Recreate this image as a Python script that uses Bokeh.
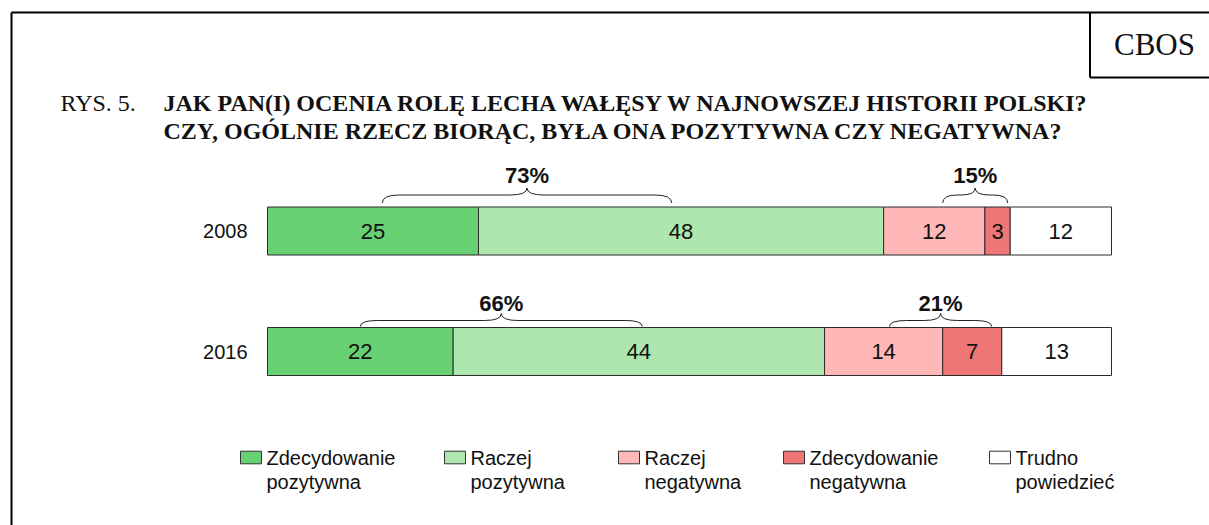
import numpy as np
import pandas as pd
from bokeh.plotting import figure
from bokeh.models import Range1d, ColumnDataSource
from bokeh.core.properties import value
from bokeh.embed import file_html
from bokeh.resources import INLINE

# ---------------- data ----------------
years = ["2008", "2016"]
categories = ["Zdecydowanie pozytywna", "Raczej pozytywna", "Raczej negatywna",
              "Zdecydowanie negatywna", "Trudno powiedzieć"]
colors = ["#67D072", "#AEE6AF", "#FFB7B7", "#EE7676", "#FFFFFF"]
values_2008 = [25, 48, 12, 3, 12]
values_2016 = [22, 44, 14, 7, 13]
# brackets (positive / negative sums) spans, in % units
bracket_from_2008 = [13.6, 80.0]
bracket_to_2008 = [47.9, 87.7]
bracket_from_2016 = [11.0, 73.7]
bracket_to_2016 = [44.4, 85.8]
bracket_groups = [[0, 1], [2, 3]]  # which categories each bracket sums

title_prefix = "RYS. 5."
title_lines = ["JAK PAN(I) OCENIA ROLĘ LECHA WAŁĘSY W NAJNOWSZEJ HISTORII POLSKI?",
               "CZY, OGÓLNIE RZECZ BIORĄC, BYŁA ONA POZYTYWNA CZY NEGATYWNA?"]
logo = "CBOS"

# ---------------- layout (pixel coords) ----------------
W, H = 1209, 525
def fx(sx): return sx
def fy(sy): return sy

x_zero_px = fx(267)
px_per_unit = 8.44
row_center = [fy(230.5), fy(351)]
bar_h = 48
bracket_end_lift = [4, 1]
bracket_flat_lift = [12, 7]
bracket_peak_lift = [19, 14]
label_lift = [32, 24]

SANS = value("Liberation Sans")
SERIF = value("Liberation Serif")

p = figure(width=W, height=H, output_backend="svg", toolbar_location=None,
           x_range=Range1d(-x_zero_px / px_per_unit, (W - x_zero_px) / px_per_unit),
           y_range=Range1d(H, 0), x_axis_type=None, y_axis_type=None,
           min_border=0)
p.extra_x_ranges = {"px": Range1d(0, W)}
p.outline_line_color = None
p.grid.visible = False
p.background_fill_color = "white"
p.border_fill_color = "white"

# ---------------- bars ----------------
rows = []
for yi, vals in enumerate([values_2008, values_2016]):
    cum = np.cumsum([0] + vals)
    for ci, v in enumerate(vals):
        rows.append(dict(y=row_center[yi], left=cum[ci], right=cum[ci + 1],
                         mid=(cum[ci] + cum[ci + 1]) / 2, val=str(v), color=colors[ci]))
df = pd.DataFrame(rows)
src = ColumnDataSource(df)
p.hbar(y="y", left="left", right="right", height=bar_h, fill_color="color",
       line_color="#2b2b2b", line_width=1, source=src)
p.text(x="mid", y="y", text="val", source=src, text_align="center",
       text_baseline="middle", text_font=SANS, text_font_size="22px", text_color="#111111")

# year labels
p.text(x=[fx(247)] * 2, y=row_center, text=years, x_range_name="px",
       text_align="right", text_baseline="middle", text_font=SANS,
       text_font_size="20px", text_color="#111111")

# ---------------- brackets ----------------
qx0, qy0, qx1, qy1, qcx, qcy = [], [], [], [], [], []
sx0, sy0, sx1, sy1 = [], [], [], []
lx, ly, lt = [], [], []
for yi, (bf, bt, vals) in enumerate([(bracket_from_2008, bracket_to_2008, values_2008),
                                     (bracket_from_2016, bracket_to_2016, values_2016)]):
    top = row_center[yi] - bar_h / 2
    ye = top - bracket_end_lift[yi]
    yf = top - bracket_flat_lift[yi]
    yp = top - bracket_peak_lift[yi]
    for k in range(2):
        xl, xr = bf[k], bt[k]
        xm = (xl + xr) / 2
        r = min(2.0, (xr - xl) / 4.5)
        # outer corners
        for xe, xs in [(xl, xl + r), (xr, xr - r)]:
            qx0.append(xe); qy0.append(ye); qx1.append(xs); qy1.append(yf)
            qcx.append(xe); qcy.append(yf)
        # inner corners to peak
        for xs in [xm - r, xm + r]:
            qx0.append(xs); qy0.append(yf); qx1.append(xm); qy1.append(yp)
            qcx.append(xm); qcy.append(yf)
        # flats
        sx0 += [xl + r, xm + r]; sx1 += [xm - r, xr - r]
        sy0 += [yf, yf]; sy1 += [yf, yf]
        total = sum(vals[i] for i in bracket_groups[k])
        lx.append(xm); ly.append(top - label_lift[yi]); lt.append(f"{total}%")

p.quadratic(x0=qx0, y0=qy0, x1=qx1, y1=qy1, cx=qcx, cy=qcy, line_color="#222222", line_width=1)
p.segment(x0=sx0, y0=sy0, x1=sx1, y1=sy1, line_color="#222222", line_width=1)
p.text(x=lx, y=ly, text=lt, text_align="center", text_baseline="middle",
       text_font=SANS, text_font_style="bold", text_font_size="22px", text_color="#111111")

# ---------------- frame & logo ----------------
p.segment(x0=[fx(11), fx(11), fx(1089.5), fx(1089.5)],
          y0=[fy(12), fy(12), fy(12), fy(77)],
          x1=[W + 5, fx(11), fx(1089.5), W + 5],
          y1=[fy(12), H + 5, fy(77), fy(77)],
          x_range_name="px", line_color="black", line_width=2)
p.text(x=[fx(1154)], y=[fy(44)], text=[logo], x_range_name="px", text_align="center",
       text_baseline="middle", text_font=SERIF, text_font_size="31px", text_color="#111111")

# ---------------- title ----------------
p.text(x=[fx(60)], y=[fy(102)], text=[title_prefix], x_range_name="px",
       text_align="left", text_baseline="alphabetic", text_font=SERIF,
       text_font_size="24px", text_color="#111111")
p.text(x=[fx(163)] * 2, y=[fy(102), fy(130)], text=title_lines, x_range_name="px",
       text_align="left", text_baseline="alphabetic", text_font=SERIF,
       text_font_style="bold", text_font_size="24px", text_color="#111111")

# ---------------- legend ----------------
leg_sq_x = [240, 444, 618, 783, 989]
leg_y1, leg_y2 = 457, 481
sq_w, sq_h = 21, 12.6
p.rect(x=[fx(x + sq_w / 2) for x in leg_sq_x], y=[fy(leg_y1)] * 5, width=sq_w, height=sq_h,
       x_range_name="px", fill_color=colors, line_color="#333333", line_width=1)
line1 = [c.split(" ", 1)[0] for c in categories]
line2 = [c.split(" ", 1)[1] for c in categories]
tx = [fx(x + sq_w + 5) for x in leg_sq_x]
p.text(x=tx, y=[fy(leg_y1)] * 5, text=line1, x_range_name="px", text_align="left",
       text_baseline="middle", text_font=SANS, text_font_size="20px", text_color="#111111")
p.text(x=tx, y=[fy(leg_y2)] * 5, text=line2, x_range_name="px", text_align="left",
       text_baseline="middle", text_font=SANS, text_font_size="20px", text_color="#111111")

open("out.html", "w").write(file_html(p, INLINE))
